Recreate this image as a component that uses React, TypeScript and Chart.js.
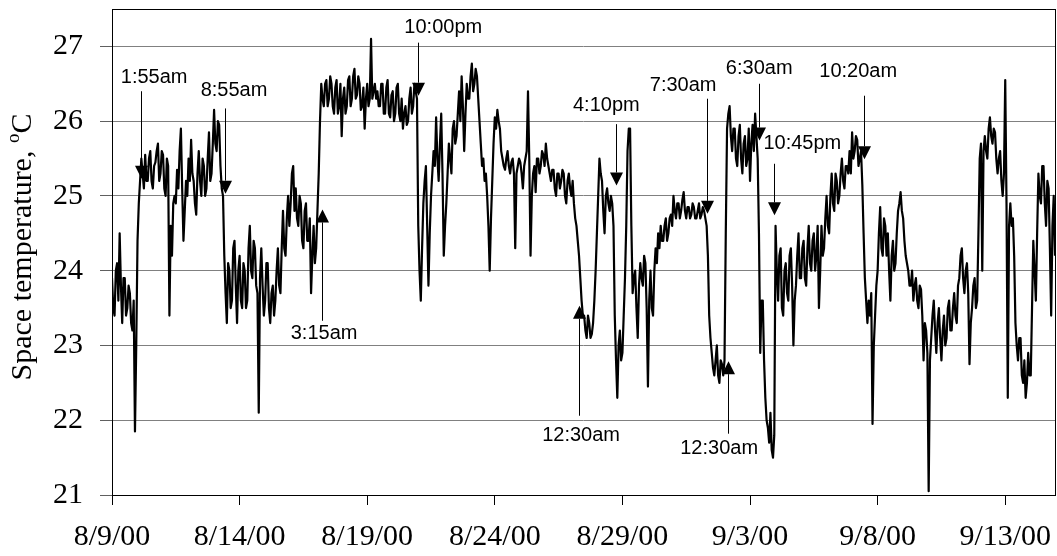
import React, { useEffect, useRef } from "react";
import { Chart, registerables } from "chart.js";

Chart.register(...registerables);

// Space temperature samples every 0.05 day, starting 8/9/00 00:00 (20 per row = one day)
const week1 = [
  23.9, 23.5, 23.4, 24.0, 24.1, 23.6, 24.5, 23.8, 23.3, 23.9, 23.9, 23.4, 23.5, 23.8, 23.7, 23.3, 23.2, 23.6, 21.85, 23.0,
  24.4, 24.9, 25.2, 25.5, 25.3, 25.1, 25.55, 25.2, 25.2, 25.5, 25.6, 25.2, 25.1, 25.4, 25.45, 25.6, 25.7, 25.2, 25.3, 25.6,
  25.55, 25.1, 25.0, 25.5, 25.4, 23.4, 24.6, 24.2, 24.9, 25.0, 24.9, 25.35, 25.1, 25.6, 25.9, 25.1, 24.4, 24.8, 25.2, 25.0,
  25.5, 25.2, 25.75, 25.3, 25.2, 24.9, 24.75, 25.3, 25.6, 25.2, 25.0, 25.5, 25.4, 25.0, 25.1, 25.5, 25.85, 25.2, 25.3, 25.7,
  26.15, 25.7, 25.6, 26.0, 25.95, 25.4, 25.1, 25.0, 24.2, 23.7, 23.3, 24.1, 24.0, 23.5, 23.6, 24.3, 24.4, 23.8, 23.3, 24.0,
  24.2, 23.6, 23.5, 24.1, 24.0, 23.5, 23.6, 24.3, 24.6, 24.0, 23.9, 24.4, 24.3, 23.8, 23.7, 22.1, 23.9, 24.3, 23.8, 23.4,
  23.6, 24.1, 24.1, 23.5, 23.3, 23.7, 23.8, 23.4, 23.6, 24.0, 24.3, 23.8, 23.7, 24.3, 24.8, 24.3, 24.2, 24.7, 25.0, 24.6,
];
const week2 = [
  24.9, 25.3, 25.4, 24.8, 25.1, 24.7, 24.6, 25.0, 24.9, 24.4, 24.3, 24.8, 24.9, 24.4, 24.4, 24.7, 23.7, 24.2, 24.6, 24.1,
  24.3, 24.8, 25.3, 26.0, 26.5, 26.3, 26.2, 26.5, 26.55, 26.2, 26.3, 26.6, 26.5, 26.2, 26.1, 26.45, 26.55, 26.1, 26.2, 26.5,
  25.8, 26.3, 26.45, 26.1, 26.2, 26.55, 26.6, 26.2, 26.3, 26.6, 26.7, 26.3, 26.35, 26.6, 26.5, 26.15, 26.2, 26.45, 25.9, 26.3,
  26.5, 26.2, 26.3, 27.1, 26.3, 26.4, 26.5, 26.3, 26.4, 26.2, 26.2, 26.5, 26.5, 26.1, 26.1, 26.45, 26.55, 26.1, 26.05, 26.35,
  26.4, 26.0, 26.1, 26.45, 26.5, 26.1, 26.0, 26.3, 25.9, 26.1, 26.2, 25.95, 26.0, 26.3, 26.45, 26.1, 26.2, 26.5, 26.4, 26.3,
  24.6, 24.0, 23.6, 24.3, 24.9, 25.2, 25.4, 24.6, 23.8, 24.5, 25.0, 25.3, 25.6, 25.4, 26.05, 25.5, 25.2, 25.7, 26.1, 25.3,
  24.2, 24.6, 24.9, 25.3, 25.7, 25.5, 25.3, 25.9, 26.0, 25.7, 25.8, 26.1, 26.4, 26.0, 26.6, 26.2, 25.6, 26.1, 26.5, 26.3,
];
const week3 = [
  26.3, 26.6, 26.77, 26.4, 26.5, 26.7, 26.6, 26.3, 26.0, 25.7, 25.4, 25.5, 25.2, 25.3, 25.0, 24.6, 24.0, 24.7, 25.2, 25.7,
  26.05, 25.9, 26.15, 26.0, 25.9, 25.6, 25.5, 25.4, 25.35, 25.5, 25.6, 25.4, 25.3, 25.45, 25.5, 25.3, 24.3, 25.3, 25.4, 25.5,
  25.45, 25.3, 25.1, 25.4, 25.5, 25.6, 26.4, 25.5, 24.2, 25.0, 25.3, 25.4, 25.05, 25.5, 25.5, 25.3, 25.4, 25.6, 25.55, 25.4,
  25.7, 25.5, 25.4, 25.3, 25.2, 25.35, 25.35, 25.1, 25.0, 25.3, 25.3, 25.1, 25.2, 25.35, 25.3, 25.0, 24.9, 25.2, 25.3, 25.1,
  25.0, 25.2, 24.9, 24.7, 24.6, 24.4, 24.2, 23.9, 23.6, 23.4, 23.4, 23.2, 23.1, 23.4, 23.3, 23.1, 23.15, 23.3, 23.6, 24.0,
  24.5, 25.0, 25.5, 25.3, 25.2, 24.8, 24.5, 25.0, 25.1, 24.9, 24.8, 25.0, 24.9, 24.6, 23.4, 22.8, 22.3, 23.0, 23.2, 22.8,
  22.9, 23.4, 23.9, 24.6, 25.6, 25.9, 25.9, 24.6, 23.7, 23.9, 24.0, 23.5, 23.1, 23.8, 24.1, 23.9, 23.8, 24.2, 24.1, 23.5,
];
const week4 = [
  22.45, 23.6, 24.0, 23.5, 23.4, 24.0, 24.3, 24.1, 24.5, 24.3, 24.6, 24.4, 24.4, 24.6, 24.7, 24.4, 24.5, 24.7, 24.75, 24.6,
  25.0, 24.8, 24.7, 24.9, 24.9, 24.7, 24.8, 24.95, 25.05, 24.8, 24.7, 24.85, 24.85, 24.7, 24.75, 24.9, 24.85, 24.7, 24.7, 24.8,
  24.9, 24.7, 24.75, 24.85, 24.8, 24.7, 24.6, 24.2, 23.4, 23.1, 22.9, 22.7, 22.6, 22.8, 23.0, 22.6, 22.5, 22.8, 22.75, 22.6,
  22.8, 24.5, 25.9, 26.1, 26.2, 25.8, 25.6, 25.9, 25.9, 25.5, 25.4, 25.8, 25.95, 25.5, 25.3, 25.7, 25.8, 25.4, 25.5, 25.9,
  25.2, 25.7, 25.95, 25.6, 26.1, 25.8, 25.5, 24.5, 22.9, 23.6, 23.6, 22.8, 22.3, 22.0, 21.9, 21.7, 22.1, 21.6, 21.5, 21.8,
  24.6, 24.0, 23.6, 24.2, 24.3, 23.5, 23.4, 24.0, 24.1, 23.7, 23.6, 24.2, 24.3, 23.8, 23.0, 23.6, 23.8, 24.2, 24.5, 23.9,
  23.9, 24.3, 24.4, 23.9, 23.8, 24.3, 24.6, 24.1, 24.0, 24.4, 24.5, 24.0, 24.2, 24.6, 23.5, 24.0, 24.6, 24.2, 24.3, 24.7,
];
const week5 = [
  25.0, 24.6, 24.5, 25.0, 25.3, 24.9, 24.8, 25.3, 25.2, 24.9, 25.0, 25.3, 25.5, 25.2, 25.1, 25.4, 25.4, 25.3, 25.6, 25.3,
  25.85, 25.5, 25.6, 25.8, 25.75, 25.4, 25.5, 25.6, 25.15, 24.5, 23.9, 23.6, 23.3, 23.6, 23.4, 23.7, 21.95, 23.0, 23.4, 23.8,
  24.0, 24.5, 24.85, 24.3, 24.2, 24.7, 24.6, 24.2, 24.5, 24.0, 23.6, 24.2, 24.4, 24.0, 24.1, 24.5, 24.8, 24.9, 25.05, 24.8,
  24.7, 24.4, 24.2, 24.1, 24.0, 23.8, 23.8, 24.0, 23.6, 23.8, 23.9, 23.6, 23.5, 23.8, 23.75, 23.4, 22.8, 23.3, 23.2, 22.9,
  21.05, 22.8, 23.1, 23.4, 23.6, 23.2, 22.9, 23.3, 23.5, 23.1, 22.8, 23.2, 23.4, 23.0, 23.1, 23.5, 23.6, 23.2, 23.2, 23.5,
  23.7, 23.4, 23.3, 23.8, 23.9, 24.2, 24.3, 23.9, 23.7, 24.0, 24.1, 23.7, 22.75, 23.3, 23.5, 23.8, 23.9, 23.5, 23.6, 24.5,
  25.5, 25.7, 24.0, 25.6, 25.8, 25.6, 25.5, 25.9, 26.05, 25.8, 25.7, 25.9, 25.85, 25.5, 25.3, 25.5, 25.6, 25.2, 25.0, 25.3,
  26.55, 24.9, 22.3, 24.6, 24.9, 24.6, 24.7, 24.2, 23.3, 23.0, 22.8, 23.1, 23.1, 22.6, 22.5, 22.8, 22.3, 22.5, 22.9, 22.6,
  22.6, 23.5, 24.4, 24.0, 23.6, 24.5, 25.3, 25.0, 24.9, 25.4, 25.4, 24.9, 24.6, 25.2, 25.1, 24.3, 23.4, 24.6, 25.0, 24.2,
  24.3,
];

const SAMPLE_STEP_DAYS = 0.05;
const dateLabels = ["8/9/00", "8/14/00", "8/19/00", "8/24/00", "8/29/00", "9/3/00", "9/8/00", "9/13/00"];
const yTicks = [21, 22, 23, 24, 25, 26, 27];

// Annotations (in data units: day offset from 8/9/00, temperature)
const annoText = ["1:55am", "8:55am", "3:15am", "10:00pm", "12:30am", "4:10pm", "7:30am", "12:30am", "6:30am", "10:45pm", "10:20am"];
const annoLabelDay = [1.65, 4.78, 8.31, 12.98, 18.38, 19.37, 22.38, 23.79, 25.36, 27.05, 29.24];
const annoLabelTemp = [26.585, 26.41, 23.16, 27.25, 21.79, 26.21, 26.48, 21.62, 26.71, 25.70, 26.67];
const arrowDay = [1.14, 4.43, 8.23, 12.0, 18.31, 19.76, 23.30, 24.12, 25.36, 25.95, 29.48];
const arrowTail = [26.40, 26.17, 23.33, 27.05, 22.06, 25.96, 26.30, 21.82, 26.50, 25.43, 26.34];
const arrowTip = [25.23, 25.03, 24.82, 26.34, 23.53, 25.14, 24.76, 22.79, 25.74, 24.74, 25.49];

const annotationsPlugin = {
  id: "annotations",
  afterDatasetsDraw(chart: any) {
    const { ctx, scales } = chart;
    const xs = scales.x;
    const ys = scales.y;
    ctx.save();
    ctx.strokeStyle = "#000";
    ctx.fillStyle = "#000";
    ctx.lineWidth = 1;
    for (let i = 0; i < arrowDay.length; i++) {
      const ax = Math.round(xs.getPixelForValue(arrowDay[i])) + 0.5;
      const ty = ys.getPixelForValue(arrowTail[i]);
      const py = ys.getPixelForValue(arrowTip[i]);
      const dir = py > ty ? 1 : -1;
      const head = 13;
      ctx.beginPath();
      ctx.moveTo(ax, ty);
      ctx.lineTo(ax, py - dir * head);
      ctx.stroke();
      ctx.beginPath();
      ctx.moveTo(ax, py);
      ctx.lineTo(ax - 6.5, py - dir * head);
      ctx.lineTo(ax + 6.5, py - dir * head);
      ctx.closePath();
      ctx.fill();
    }
    ctx.font = '20px "Liberation Sans", Arial, sans-serif';
    ctx.textAlign = "center";
    ctx.textBaseline = "middle";
    for (let i = 0; i < annoText.length; i++) {
      ctx.fillText(annoText[i], xs.getPixelForValue(annoLabelDay[i]), ys.getPixelForValue(annoLabelTemp[i]));
    }
    ctx.restore();
  },
};

const framePlugin = {
  id: "frame",
  afterDraw(chart: any) {
    const { ctx, chartArea } = chart;
    ctx.save();
    ctx.strokeStyle = "#000";
    ctx.lineWidth = 1;
    ctx.strokeRect(
      Math.round(chartArea.left) + 0.5,
      Math.round(chartArea.top) + 0.5,
      Math.round(chartArea.right - chartArea.left),
      Math.round(chartArea.bottom - chartArea.top)
    );
    // Y axis title with superscript o
    const cx = 31;
    const cy = (chartArea.top + chartArea.bottom) / 2 - 5;
    ctx.translate(cx, cy);
    ctx.rotate(-Math.PI / 2);
    ctx.fillStyle = "#000";
    ctx.textBaseline = "alphabetic";
    ctx.textAlign = "left";
    const mainFont = '30px "Liberation Serif", "Times New Roman", serif';
    const supFont = '19px "Liberation Serif", "Times New Roman", serif';
    const t1 = "Space temperature, ";
    const t2 = "o";
    const t3 = "C";
    ctx.font = mainFont;
    const w1 = ctx.measureText(t1).width;
    const w3 = ctx.measureText(t3).width;
    ctx.font = supFont;
    const w2 = ctx.measureText(t2).width;
    const total = w1 + w2 + w3;
    let px = -total / 2;
    ctx.font = mainFont;
    ctx.fillText(t1, px, 0);
    px += w1;
    ctx.font = supFont;
    ctx.fillText(t2, px, -12);
    px += w2;
    ctx.font = mainFont;
    ctx.fillText(t3, px, 0);
    ctx.restore();
  },
};

export default function App() {
  const canvasRef = useRef<HTMLCanvasElement | null>(null);

  useEffect(() => {
    if (!canvasRef.current) return;
    const values = [...week1, ...week2, ...week3, ...week4, ...week5];
    const points = values.map((v, i) => ({ x: +(i * SAMPLE_STEP_DAYS).toFixed(3), y: v }));
    const chart = new Chart(canvasRef.current, {
      type: "line",
      data: {
        datasets: [
          {
            data: points,
            borderColor: "#000",
            borderWidth: 2.2,
            borderJoinStyle: "round",
            pointRadius: 0,
            tension: 0,
            fill: false,
          },
        ],
      },
      options: {
        animation: false,
        responsive: true,
        maintainAspectRatio: false,
        layout: { padding: { top: 9, right: 2, left: 0, bottom: 0 } },
        plugins: {
          legend: { display: false },
          tooltip: { enabled: false },
          title: { display: false },
        },
        scales: {
          x: {
            type: "linear",
            min: 0,
            max: 36.95,
            afterBuildTicks: (scale: any) => {
              scale.ticks = dateLabels.map((_, i) => ({ value: i * 5 }));
            },
            afterFit: (scale: any) => {
              scale.height = 61;
              scale.paddingLeft = 0;
              scale.paddingRight = 0;
              scale.paddingTop = 0;
              scale.paddingBottom = 0;
            },
            ticks: {
              autoSkip: false,
              maxRotation: 0,
              minRotation: 0,
              padding: 14,
              color: "#000",
              font: { family: '"Liberation Serif", "Times New Roman", serif', size: 30 },
              callback: (v: any) => dateLabels[Math.round(Number(v) / 5)] ?? "",
            },
            grid: {
              drawOnChartArea: false,
              drawTicks: true,
              tickLength: 10,
              color: "#000",
              tickColor: "#000",
            },
            border: { display: false },
          },
          y: {
            type: "linear",
            min: 21,
            max: 27.5,
            afterBuildTicks: (scale: any) => {
              scale.ticks = yTicks.map((v) => ({ value: v }));
            },
            afterFit: (scale: any) => {
              scale.width = 112;
              scale.paddingLeft = 0;
              scale.paddingRight = 0;
              scale.paddingTop = 0;
              scale.paddingBottom = 0;
            },
            ticks: {
              padding: 17,
              color: "#000",
              font: { family: '"Liberation Serif", "Times New Roman", serif', size: 30 },
              callback: (v: any) => String(v),
            },
            grid: {
              color: "#808080",
              lineWidth: 1,
              drawTicks: true,
              tickLength: 12,
              tickColor: "#606060",
            },
            border: { display: false },
          },
        },
      },
      plugins: [annotationsPlugin, framePlugin],
    });
    return () => chart.destroy();
  }, []);

  return (
    <div style={{ position: "absolute", left: 0, top: 0, width: 1057, height: 556, background: "#fff" }}>
      <canvas ref={canvasRef} />
    </div>
  );
}
